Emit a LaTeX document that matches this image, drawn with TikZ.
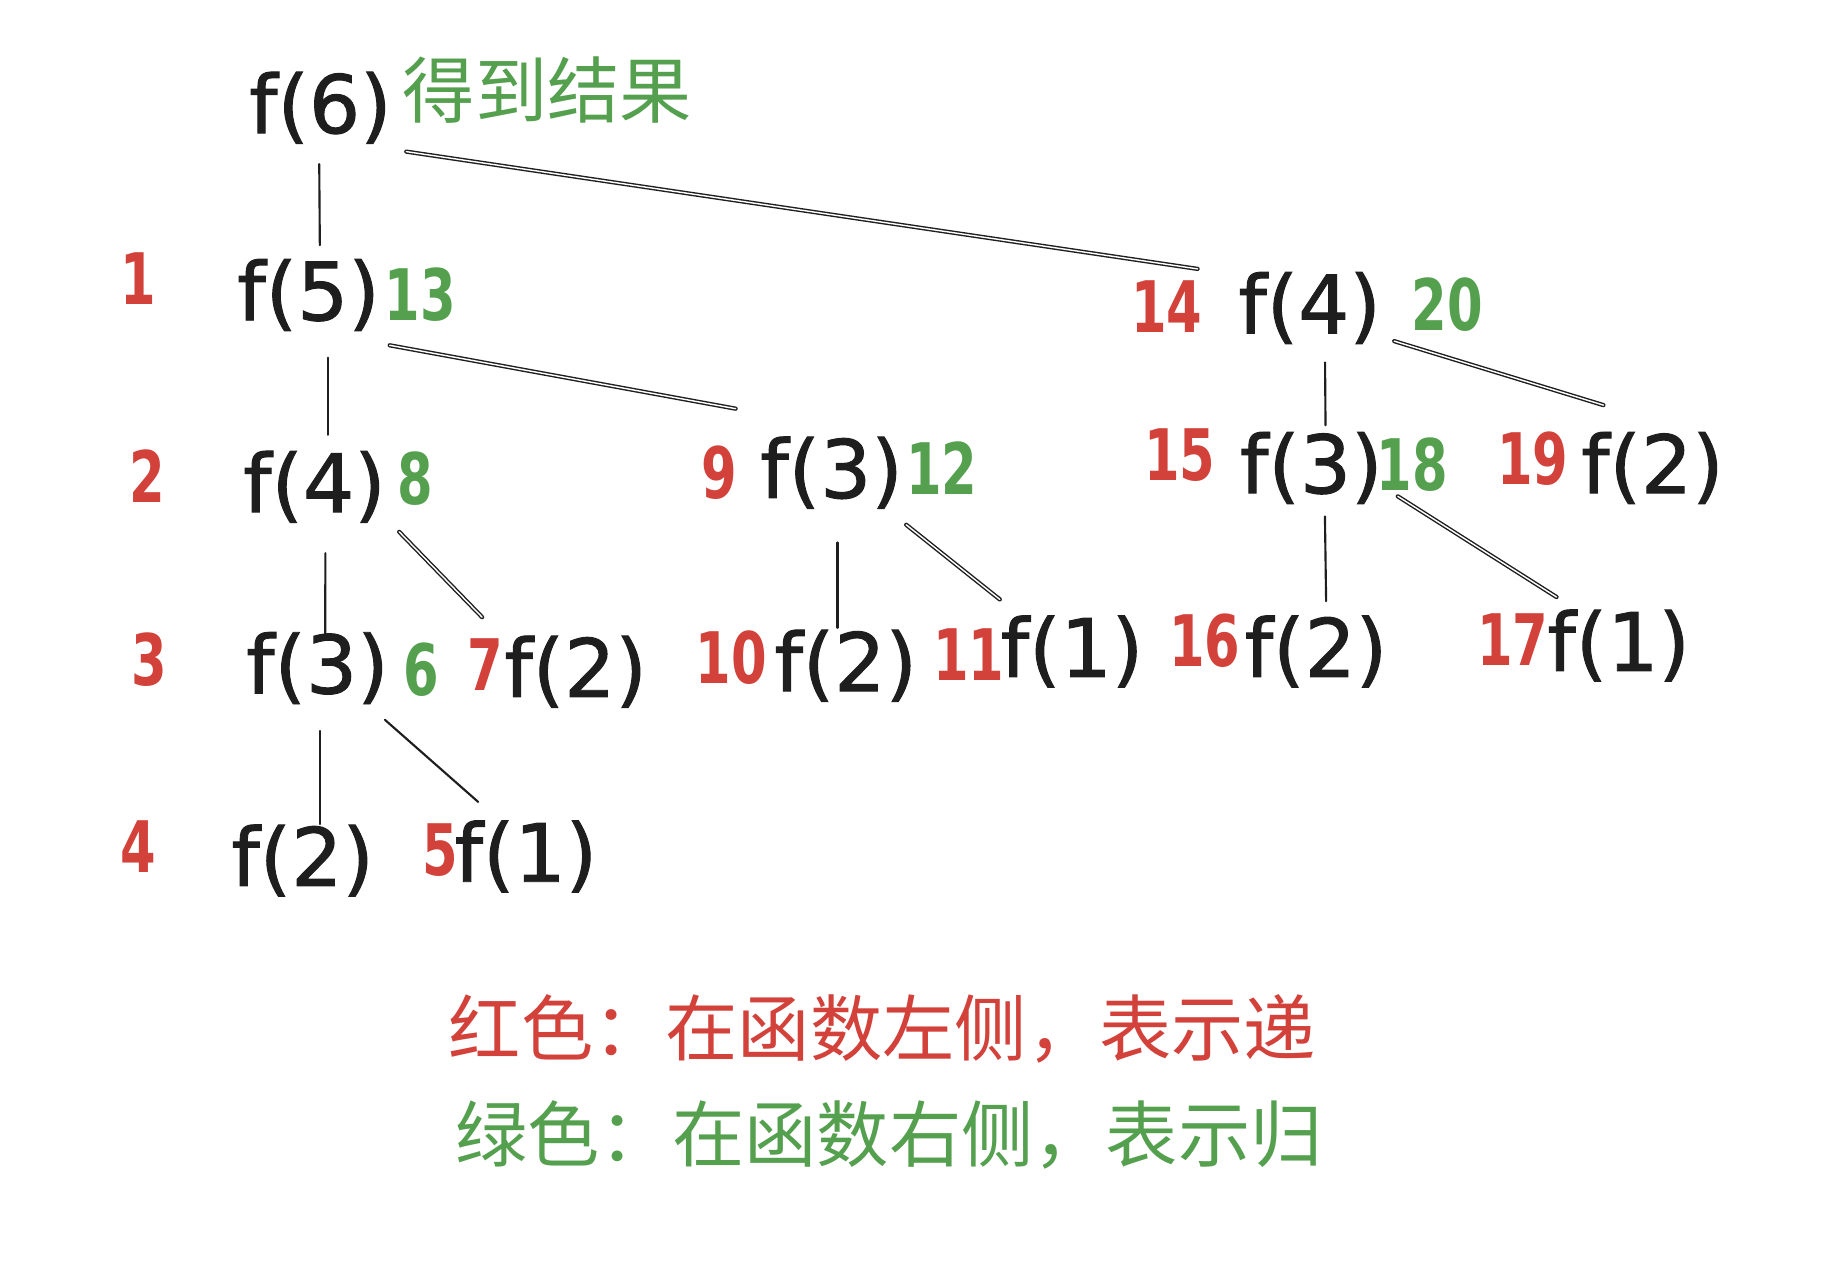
\documentclass[tikz,border=0pt]{standalone}
\usepackage{fontspec}
\setmainfont{DejaVu Sans}
\newfontfamily\ffont[FakeBold=1.2]{DejaVu Sans}
\newfontfamily\numfont[FakeStretch=0.72]{DejaVu Sans Bold}
\newfontfamily\cjk{Noto Sans CJK SC}
\usetikzlibrary{calc}
\definecolor{redc}{HTML}{D2413A}
\definecolor{greenc}{HTML}{55A04F}
\definecolor{inkc}{HTML}{1E1E1E}
\tikzset{
 fn/.style={inner sep=0pt, outer sep=0pt, text=inkc, font=\ffont\fontsize{34}{34}\selectfont},
 rn/.style={inner sep=0pt, outer sep=0pt, text=redc, font=\numfont\fontsize{30}{30}\selectfont},
 gn/.style={inner sep=0pt, outer sep=0pt, text=greenc, font=\numfont\fontsize{30}{30}\selectfont},
 note/.style={inner sep=0pt, outer sep=0pt, font=\cjk\fontsize{30.5}{30.5}\selectfont},
 conn/.style={draw=inkc, line width=0.9pt, line cap=round},
 dconn/.style={draw=inkc, line width=0.6pt, double=white, double distance=0.6pt, line cap=round},
}
\begin{document}
\begin{tikzpicture}[x=0.5pt, y=-0.5pt]
\useasboundingbox (0,0) rectangle (1555,1070.4);
% row 0
\node[fn] (f6) at (270.5,91) {f(6)};
\node[note, text=greenc] (res) at (462,76) {得到结果};
% row 1
\node[rn] (n1) at (117,235) {1};
\node[fn] (f5) at (260.5,249) {f(5)};
\node[gn] (n13) at (355,248.5) {13};
\node[rn] (n14) at (985,259) {14};
\node[fn] (f4r) at (1105.6,260) {f(4)};
\node[gn] (n20) at (1222,257) {20};
% row 2
\node[rn] (n2) at (124,402) {2};
\node[fn] (f4l) at (265.5,411) {f(4)};
\node[gn] (n8) at (351,404) {8};
\node[rn] (n9) at (607,399) {9};
\node[fn] (f3m) at (702,399) {f(3)};
\node[gn] (n12) at (795,395) {12};
\node[rn] (n15) at (996,384) {15};
\node[fn] (f3r) at (1107,395) {f(3)};
\node[gn] (n18) at (1192.5,392) {18};
\node[rn] (n19) at (1294,387) {19};
\node[fn] (f2a) at (1395,395) {f(2)};
% row 3
\node[rn] (n3) at (126,557) {3};
\node[fn] (f3l) at (268,564) {f(3)};
\node[gn] (n6) at (356,565) {6};
\node[rn] (n7) at (410,561) {7};
\node[fn] (f2b) at (486,567) {f(2)};
\node[rn] (n10) at (617.6,555) {10};
\node[fn] (f2c) at (714,562) {f(2)};
\node[rn] (n11) at (818,553) {11};
\node[fn] (f1a) at (905,550) {f(1)};
\node[rn] (n16) at (1017,541) {16};
\node[fn] (f2d) at (1111,550) {f(2)};
\node[rn] (n17) at (1277,540) {17};
\node[fn] (f1b) at (1366.5,545) {f(1)};
% row 4
\node[rn] (n4) at (117,714.6) {4};
\node[fn] (f2e) at (255.5,726.5) {f(2)};
\node[rn] (n5) at (371.5,718) {5};
\node[fn] (f1c) at (444,723) {f(1)};
% legend
\node[note, text=redc] (leg1) at (745,869) {红色：在函数左侧，表示递};
\node[note, text=greenc] (leg2) at (750.5,958) {绿色：在函数右侧，表示归};
% connectors
\draw[conn] ($(f6)+(-1,47.5)$) -- ($(f5)+(9.5,-42)$);
\draw[dconn] ($(f6)+(72.5,37)$) -- ($(f4r)+(-94.6,-33)$);
\draw[conn] ($(f5)+(16.5,53)$) -- ($(f4l)+(11.5,-44)$);
\draw[dconn] ($(f5)+(68.5,42.5)$) -- ($(f3m)+(-81,-54)$);
\draw[conn] ($(f4r)+(13,46)$) -- ($(f3r)+(12,-36)$);
\draw[dconn] ($(f4r)+(71.4,28)$) -- ($(f2a)+(-41.4,-53)$);
\draw[conn] ($(f4l)+(9.2,56)$) -- ($(f3l)+(6.5,-24)$);
\draw[dconn] ($(f4l)+(71.5,38)$) -- ($(f2b)+(-79,-46)$);
\draw[conn] ($(f3m)+(5,59)$) -- ($(f2c)+(-7,-32)$);
\draw[dconn] ($(f3m)+(63,44)$) -- ($(f1a)+(-61,-44)$);
\draw[conn] ($(f3r)+(11.5,41)$) -- ($(f2d)+(8.5,-42.4)$);
\draw[dconn] ($(f3r)+(73,24)$) -- ($(f1b)+(-52.5,-41)$);
\draw[conn] ($(f3l)+(2,53)$) -- ($(f2e)+(14.5,-30.8)$);
\draw[conn] ($(f3l)+(57,43.7)$) -- ($(f1c)+(-40.3,-46)$);
\end{tikzpicture}
\end{document}
